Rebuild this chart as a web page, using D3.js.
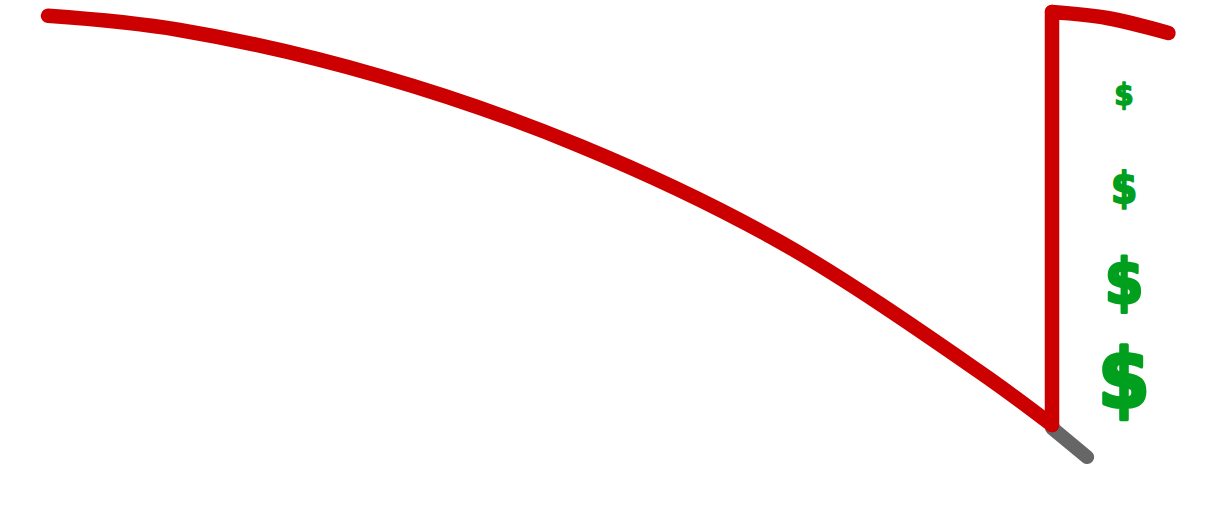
<!DOCTYPE html>
<html>
<head>
<meta charset="utf-8">
<script src="https://cdn.jsdelivr.net/npm/d3@7"></script>
<style>
  html, body { margin: 0; padding: 0; background: #fff; }
  svg { display: block; }
</style>
</head>
<body>
<svg id="chart" width="1227" height="518"></svg>
<script>
// ---- data ----
// decline phase (time, value)
const declineTime  = [0, 13.1, 33.1, 53.0, 72.9, 92.8, 100];
const declineValue = [99.1, 95.8, 85.0, 68.7, 46.3, 15.9, 3.5];
// reset jump
const jumpTime  = [100, 100];
const jumpValue = [3.5, 100];
// recovery phase
const recoveryTime  = [100, 105.5, 111.6];
const recoveryValue = [100, 98.6, 95.1];
// projected continuation (gray)
const projTime  = [100, 103.5];
const projValue = [2.8, -4.0];
// dollar markers (relative amounts)
const dollarLabels  = ["$", "$", "$", "$"];
const dollarAmounts = [1, 1.35, 2, 2.65];

// ---- scales ----
const svg = d3.select("#chart");
const x = d3.scaleLinear().domain([0, 100]).range([48, 1052]);
const y = d3.scaleLinear().domain([0, 100]).range([440, 12]);

const zip = (a, b) => a.map((v, i) => [v, b[i]]);
const line = d3.line().x(d => x(d[0])).y(d => y(d[1]));
const smooth = d3.line().x(d => x(d[0])).y(d => y(d[1])).curve(d3.curveCatmullRom.alpha(0.5));

// gray projection first (below red)
svg.append("path")
  .attr("d", line(zip(projTime, projValue)))
  .attr("fill", "none").attr("stroke", "#666666")
  .attr("stroke-width", 14).attr("stroke-linecap", "round");

const red = { stroke: "#CC0000", w: 14.5 };
[[smooth, zip(declineTime, declineValue)],
 [line, zip(jumpTime, jumpValue)],
 [smooth, zip(recoveryTime, recoveryValue)]].forEach(([gen, pts]) => {
  svg.append("path")
    .attr("d", gen(pts))
    .attr("fill", "none").attr("stroke", red.stroke)
    .attr("stroke-width", red.w)
    .attr("stroke-linecap", "round").attr("stroke-linejoin", "round");
});

// dollar markers
const sizeScale = d3.scaleLinear().domain([1, 2.65]).range([31, 82]);
const bottoms = [110, 210, 313, 420];
svg.selectAll("text.dollar")
  .data(dollarAmounts)
  .join("text")
  .attr("class", "dollar")
  .attr("x", 1124)
  .attr("y", (d, i) => bottoms[i] - 0.16 * sizeScale(d))
  .attr("text-anchor", "middle")
  .attr("font-family", "'DejaVu Sans Condensed', 'DejaVu Sans', sans-serif")
  .attr("font-weight", "bold")
  .attr("font-size", d => sizeScale(d))
  .attr("fill", "#00A01E")
  .attr("stroke", "#00A01E")
  .attr("stroke-width", d => sizeScale(d) * 0.045)
  .attr("stroke-linejoin", "round")
  .text((d, i) => dollarLabels[i]);
</script>
</body>
</html>
